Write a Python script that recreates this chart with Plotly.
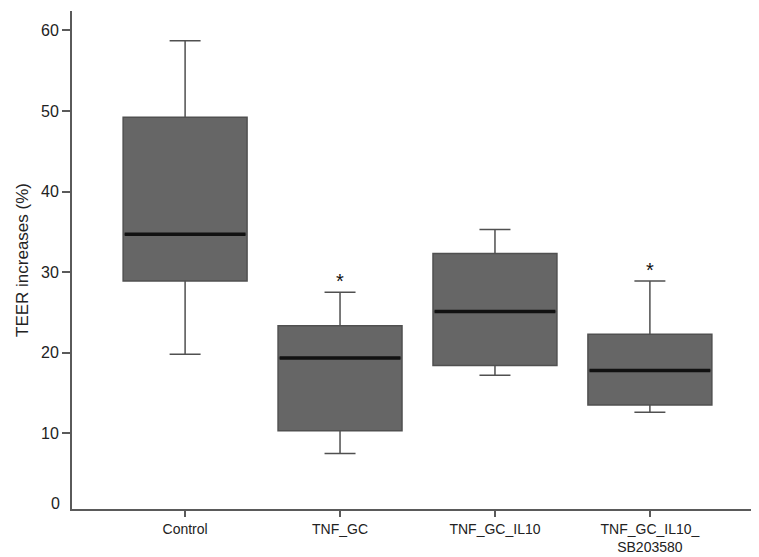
import plotly.graph_objects as go

categories = ["Control", "TNF_GC", "TNF_GC_IL10", "TNF_GC_IL10_<br>SB203580"]
lower_fence = [19.8, 7.5, 17.2, 12.6]
q1 = [28.9, 10.3, 18.4, 13.5]
median = [34.7, 19.35, 25.1, 17.8]
q3 = [49.2, 23.35, 32.3, 22.3]
upper_fence = [58.7, 27.5, 35.3, 28.9]
significance = ["", "*", "", "*"]
y_ticks = [10, 20, 30, 40, 50, 60]

BOX_W = 0.8
pos = list(range(len(categories)))

fig = go.Figure()
fig.add_trace(go.Box(
    x=pos, q1=q1, median=median, q3=q3,
    lowerfence=lower_fence, upperfence=upper_fence,
    width=BOX_W, whiskerwidth=0.25,
    fillcolor="#666666",
    line=dict(color="#505050", width=1.5),
    boxpoints=False, hoverinfo="skip", showlegend=False,
))

# thick black median lines
for i, m in zip(pos, median):
    fig.add_shape(type="line", xref="x", yref="y",
                  x0=i - BOX_W / 2 + 0.01, x1=i + BOX_W / 2 - 0.01, y0=m, y1=m,
                  line=dict(color="#111111", width=3.5))

# significance stars
for i, s, u in zip(pos, significance, upper_fence):
    if s:
        fig.add_annotation(x=i, y=u, text=s, showarrow=False, yanchor="bottom",
                           yshift=-2, font=dict(size=20, color="#111111"))

# "0" label at baseline
fig.add_annotation(xref="paper", yref="paper", x=0, y=0, text="0", showarrow=False,
                   xanchor="right", yanchor="middle", xshift=-10, yshift=6,
                   font=dict(size=16, color="#222222", family="Liberation Sans, Arial, sans-serif"))

fig.update_layout(
    width=759, height=557,
    margin=dict(l=64, r=4, t=3, b=56),
    plot_bgcolor="white", paper_bgcolor="white",
    font=dict(family="Liberation Sans, Arial, sans-serif", color="#222222"),
    xaxis=dict(
        range=[-0.73, 3.73], tickvals=pos, ticktext=categories,
        showline=True, linecolor="#5a5a5a", linewidth=2,
        ticks="outside", ticklen=6, tickwidth=2, tickcolor="#5a5a5a",
        showgrid=False, zeroline=False, tickfont=dict(size=14),
    ),
    yaxis=dict(
        range=[0.6, 62.4], tickvals=y_ticks,
        showline=True, linecolor="#5a5a5a", linewidth=2,
        ticks="outside", ticklen=8, tickwidth=2, tickcolor="#5a5a5a",
        showgrid=False, zeroline=False, tickfont=dict(size=16),
        title=dict(text="TEER increases (%)", font=dict(size=17), standoff=8),
    ),
)

fig.write_html("out.html")
